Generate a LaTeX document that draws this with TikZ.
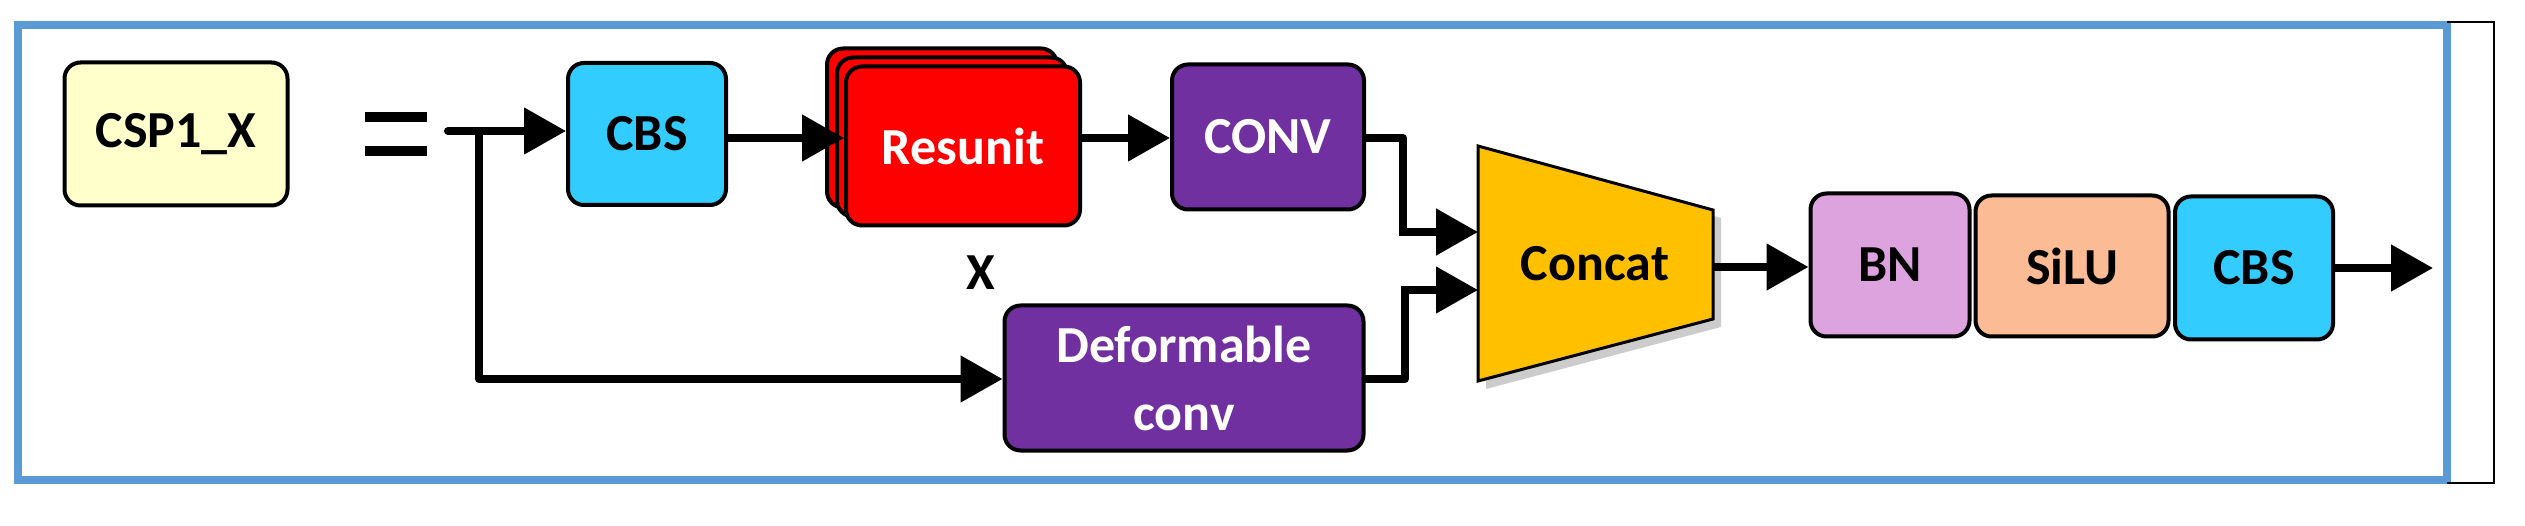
\documentclass[tikz,border=0pt]{standalone}
\usepackage{fontspec}
\setmainfont{Carlito}
\usetikzlibrary{arrows.meta,shadows}
\definecolor{frameblue}{HTML}{5B9BD5}
\definecolor{cyanbox}{HTML}{33CCFF}
\definecolor{purp}{HTML}{7030A0}
\definecolor{cream}{HTML}{FFFFCC}
\definecolor{gold}{HTML}{FFC000}
\definecolor{pinkbox}{HTML}{DDA3DF}
\definecolor{peach}{HTML}{FBBB94}
\tikzset{
  box/.style={draw=black, line width=4pt, rounded corners=16pt, inner sep=0pt, align=center,
    font=\fontsize{52}{64}\selectfont\bfseries},
  arr/.style={line width=8pt, -{Triangle[length=42pt,width=45pt]}},
  ln/.style={line width=8pt, line cap=round, line join=round}
}
\begin{document}
\begin{tikzpicture}[x=1pt,y=-1pt]
\useasboundingbox (0,0) rectangle (2525,526);
\draw[frameblue, line width=8pt] (18,25) rectangle (2447,480);
\draw[black, line width=2pt] (2447,22) -- (2494,22) -- (2494,483) -- (2447,483);

\node[box, fill=cream, minimum width=223pt, minimum height=143pt] (csp) at (176,134) {CSP1\_X};
\fill (365,112) rectangle (427,122);
\fill (365,146) rectangle (427,156);
\coordinate (start) at (448,131);
\coordinate (split) at (479,131);

\node[box, fill=cyanbox, minimum width=158pt, minimum height=142pt] (cbs1) at (647,134) {CBS};
\node[box, fill=red, minimum width=230pt, minimum height=159pt] (r3) at (942,128) {};
\node[box, fill=red, minimum width=230pt, minimum height=159pt] (r2) at (952,137) {};
\node[box, fill=red, text=white, minimum width=234pt, minimum height=159pt] (res) at (963,146) {Resunit};
\node[box, fill=purp, text=white, minimum width=192pt, minimum height=145pt] (conv) at (1268,137) {CONV};
\node[font=\fontsize{52}{64}\selectfont\bfseries] (x) at (981,273) {X};
\node[box, fill=purp, text=white, minimum width=359pt, minimum height=145pt] (def) at (1184,378) {Deformable\\[4pt]conv};

\draw[fill=gold, line width=3pt, drop shadow={shadow xshift=8pt, shadow yshift=-8pt, opacity=0.4}]
  (1478,146) -- (1713,210) -- (1713,319) -- (1478,381) -- cycle;
\node[font=\fontsize{52}{64}\selectfont\bfseries] (concat) at (1595,264) {Concat};
\coordinate (cin1) at (1478,232);
\coordinate (cin2) at (1478,290);
\coordinate (cout) at (1713,267);

\node[box, fill=pinkbox, minimum width=159pt, minimum height=143pt] (bn) at (1890,265) {BN};
\node[box, fill=peach, minimum width=193pt, minimum height=141pt] (silu) at (2072,266) {SiLU};
\node[box, fill=cyanbox, minimum width=158pt, minimum height=143pt] (cbs2) at (2254,268) {CBS};
\coordinate (out) at (2433,268);

\draw[ln] (start) -- (split);
\draw[arr] (split) -- (cbs1.west |- split);
\draw[arr] (cbs1.east |- 0,138) -- (res.west |- 0,138);
\draw[arr] (res.east |- 0,138) -- (conv.west |- 0,138);
\draw[ln] (split) -- (479,379);
\draw[arr] (479,379) -- (def.west |- 0,379);
\draw[ln] (conv.east |- 0,138) -- (1403,138) -- (1403,232);
\draw[arr] (1399,232) -- (cin1);
\draw[ln] (def.east |- 0,379) -- (1405,379) -- (1405,290);
\draw[arr] (1401,290) -- (cin2);
\draw[arr] (cout) -- (bn.west |- cout);
\draw[arr] (cbs2.east |- out) -- (out);
\end{tikzpicture}
\end{document}
